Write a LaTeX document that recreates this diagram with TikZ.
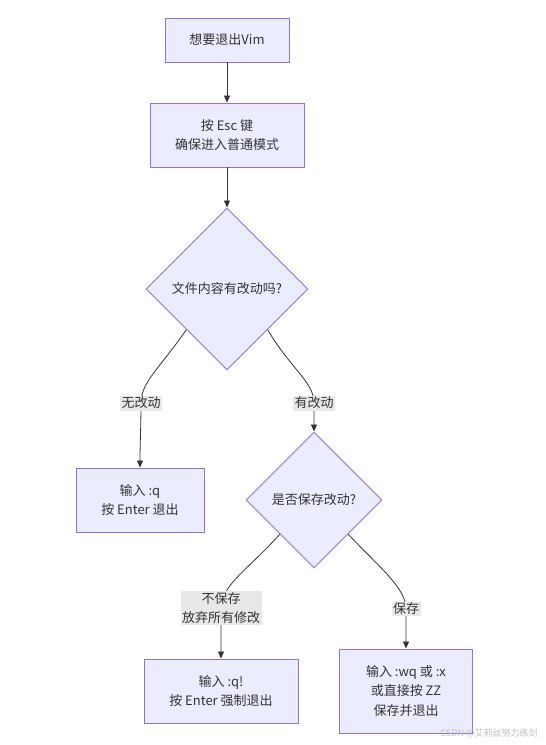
\documentclass[tikz,border=0pt]{standalone}
\usepackage{fontspec}
\setmainfont{Noto Sans CJK SC}
\usetikzlibrary{arrows.meta,shapes.geometric}
\definecolor{mmfill}{HTML}{ECECFF}
\definecolor{mmline}{HTML}{9370DB}
\definecolor{mmedge}{HTML}{333333}
\definecolor{mmlabel}{HTML}{E8E8E8}
\begin{document}
\begin{tikzpicture}[x=1pt, y=-1pt, every node/.style={font=\fontsize{13}{19.5}\selectfont, text=mmedge}, box/.style={draw=mmline,fill=mmfill,line width=0.9pt,align=center,inner sep=0pt}, choice/.style={diamond,aspect=1,draw=mmline,fill=mmfill,line width=0.9pt,align=center,inner sep=0pt}, lbl/.style={fill=mmlabel,align=center,inner sep=1.5pt}, arr/.style={-{Triangle[length=7pt,width=6pt]},mmedge,line width=0.8pt}]
\fill[white] (0,0) rectangle (546,745);
\node[box,minimum width=124pt,minimum height=44pt] (quit) at (227,40) {想要退出Vim};
\node[box,minimum width=154pt,minimum height=64pt] (esc) at (227,135) {按 Esc 键\\确保进入普通模式};
\node[choice,minimum width=162pt,minimum height=162pt] (changed) at (227,289) {文件内容有改动吗?};
\node[box,minimum width=128pt,minimum height=64pt] (quitq) at (140,500) {输入 :q\\按 Enter 退出};
\node[choice,minimum width=136pt,minimum height=136pt] (save) at (314,500) {是否保存改动?};
\node[box,minimum width=154pt,minimum height=64pt] (force) at (221,691) {输入 :q!\\按 Enter 强制退出};
\node[box,minimum width=133pt,minimum height=84pt] (write) at (406,691) {输入 :wq 或 :x\\或直接按 ZZ\\保存并退出};
% edge label spots
\coordinate (nochg) at (141,403);
\coordinate (chg) at (314,403);
\coordinate (nosave) at (221,608);
\coordinate (dosave) at (406,609);
\draw[arr] (quit) -- (esc);
\draw[arr] (esc) -- (changed);
\draw[arr] (changed.south west) .. controls (160,368) and (141,382) .. (nochg) .. controls (141,425) and (140,445) .. (quitq.north);
\draw[arr] (changed.south east) .. controls (290,368) and (314,382) .. (chg) .. controls (314,415) and (314,420) .. (save.north);
\draw[arr] (save.south west) .. controls (250,568) and (221,585) .. (nosave) .. controls (221,630) and (221,645) .. (force.north);
\draw[arr] (save.south east) .. controls (380,568) and (406,588) .. (dosave) .. controls (406,625) and (406,635) .. (write.north);
\node[lbl] at (nochg) {无改动};
\node[lbl] at (chg) {有改动};
\node[lbl] at (nosave) {不保存\\放弃所有修改};
\node[lbl] at (dosave) {保存};
\node[font=\fontsize{9}{10}\selectfont,text=black!25] (mark) at (489,733) {CSDN @艾莉丝努力练剑};
\end{tikzpicture}
\end{document}
